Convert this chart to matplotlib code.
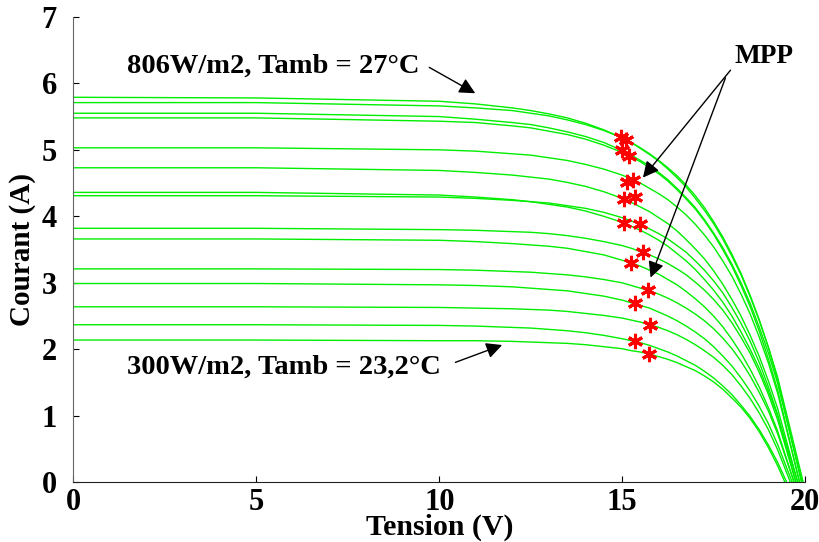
import matplotlib
matplotlib.use('Agg')
import matplotlib.pyplot as plt

# tension grid (V) shared by every curve, then each curve ends at its own Voc
v_grid = [0, 5, 10, 11, 12, 12.5, 13, 13.5, 14, 14.5, 15, 15.25, 15.5, 15.75, 16, 16.25, 16.5,
          16.75, 17, 17.25, 17.5, 17.75, 18, 18.25, 18.5, 18.75, 19, 19.25]
voc = [19.95, 19.9, 19.92, 19.85, 19.85, 19.8, 19.8, 19.75, 19.75, 19.7, 19.7, 19.65, 19.6, 19.5, 19.45]

# courant (A) on v_grid, one row per curve (806 W/m2 at top, 300 W/m2 at bottom)
i_curves = [
    [5.79, 5.78, 5.73, 5.69, 5.63, 5.59, 5.54, 5.48, 5.40, 5.30, 5.18, 5.11, 5.02, 4.93, 4.83, 4.71, 4.58, 4.44, 4.27, 4.09, 3.89, 3.66, 3.40, 3.12, 2.79, 2.43, 2.03, 1.58],
    [5.71, 5.71, 5.66, 5.63, 5.59, 5.55, 5.51, 5.45, 5.38, 5.29, 5.18, 5.11, 5.03, 4.94, 4.84, 4.73, 4.61, 4.47, 4.31, 4.13, 3.92, 3.69, 3.43, 3.14, 2.81, 2.44, 2.02, 1.54],
    [5.55, 5.55, 5.50, 5.46, 5.41, 5.38, 5.33, 5.27, 5.20, 5.11, 4.99, 4.92, 4.84, 4.76, 4.66, 4.55, 4.42, 4.28, 4.13, 3.95, 3.75, 3.53, 3.28, 3.00, 2.69, 2.33, 1.94, 1.49],
    [5.48, 5.48, 5.43, 5.41, 5.36, 5.33, 5.28, 5.23, 5.16, 5.07, 4.96, 4.89, 4.82, 4.73, 4.64, 4.53, 4.40, 4.26, 4.11, 3.93, 3.73, 3.50, 3.25, 2.96, 2.64, 2.27, 1.85, 1.39],
    [5.03, 5.03, 5.00, 4.98, 4.94, 4.92, 4.88, 4.84, 4.78, 4.71, 4.62, 4.56, 4.50, 4.42, 4.34, 4.25, 4.14, 4.02, 3.88, 3.72, 3.54, 3.33, 3.10, 2.83, 2.53, 2.18, 1.79, 1.34],
    [4.73, 4.73, 4.69, 4.66, 4.62, 4.59, 4.56, 4.51, 4.45, 4.37, 4.27, 4.21, 4.14, 4.07, 3.98, 3.89, 3.78, 3.65, 3.51, 3.36, 3.18, 2.98, 2.75, 2.50, 2.21, 1.89, 1.52, 1.11],
    [4.36, 4.36, 4.32, 4.29, 4.25, 4.22, 4.18, 4.14, 4.08, 4.00, 3.91, 3.85, 3.79, 3.72, 3.64, 3.55, 3.44, 3.33, 3.20, 3.05, 2.89, 2.71, 2.50, 2.26, 2.00, 1.71, 1.37, 1.00],
    [4.31, 4.31, 4.29, 4.27, 4.24, 4.22, 4.20, 4.16, 4.12, 4.06, 3.98, 3.93, 3.88, 3.81, 3.74, 3.66, 3.56, 3.46, 3.33, 3.19, 3.03, 2.85, 2.63, 2.39, 2.12, 1.80, 1.43, 1.02],
    [3.82, 3.82, 3.80, 3.79, 3.77, 3.76, 3.74, 3.71, 3.67, 3.62, 3.56, 3.52, 3.47, 3.42, 3.36, 3.29, 3.21, 3.12, 3.01, 2.89, 2.75, 2.59, 2.40, 2.18, 1.94, 1.65, 1.32, 0.94],
    [3.66, 3.66, 3.64, 3.62, 3.59, 3.57, 3.55, 3.52, 3.47, 3.42, 3.34, 3.30, 3.25, 3.19, 3.13, 3.05, 2.97, 2.87, 2.76, 2.64, 2.50, 2.34, 2.15, 1.94, 1.70, 1.43, 1.12, 0.77],
    [3.21, 3.21, 3.20, 3.19, 3.17, 3.16, 3.14, 3.12, 3.09, 3.05, 3.00, 2.96, 2.92, 2.88, 2.83, 2.77, 2.70, 2.62, 2.53, 2.43, 2.31, 2.17, 2.01, 1.82, 1.60, 1.35, 1.07, 0.73],
    [2.99, 2.99, 2.97, 2.96, 2.94, 2.92, 2.90, 2.88, 2.84, 2.80, 2.74, 2.70, 2.66, 2.62, 2.56, 2.50, 2.43, 2.35, 2.26, 2.16, 2.04, 1.90, 1.75, 1.57, 1.37, 1.14, 0.88, 0.57],
    [2.64, 2.64, 2.63, 2.62, 2.61, 2.60, 2.59, 2.57, 2.54, 2.51, 2.47, 2.44, 2.41, 2.37, 2.33, 2.28, 2.22, 2.15, 2.07, 1.98, 1.88, 1.76, 1.62, 1.45, 1.26, 1.04, 0.79, 0.49],
    [2.37, 2.37, 2.36, 2.35, 2.33, 2.32, 2.30, 2.28, 2.25, 2.21, 2.16, 2.13, 2.10, 2.06, 2.01, 1.96, 1.90, 1.83, 1.76, 1.67, 1.57, 1.45, 1.32, 1.16, 0.99, 0.79, 0.56, 0.30],
    [2.14, 2.14, 2.13, 2.13, 2.12, 2.11, 2.10, 2.09, 2.07, 2.04, 2.01, 1.98, 1.96, 1.93, 1.89, 1.85, 1.80, 1.74, 1.68, 1.60, 1.51, 1.40, 1.27, 1.13, 0.96, 0.76, 0.52, 0.25],
]

# points de puissance maximale
mpp_v = [14.96, 15.10, 15.0, 15.19, 15.13, 15.3, 15.04, 15.34, 15.04, 15.48, 15.57, 15.25, 15.7, 15.34, 15.75, 15.34, 15.73]
mpp_i = [5.19, 5.15, 4.99, 4.91, 4.52, 4.55, 4.26, 4.29, 3.90, 3.88, 3.46, 3.30, 2.89, 2.69, 2.37, 2.12, 1.93]

plt.rcParams['font.family'] = ['Liberation Serif', 'DejaVu Serif']
plt.rcParams['font.weight'] = 'bold'

fig = plt.figure(figsize=(8.19, 5.42), dpi=100)
ax = fig.add_axes([0.0897, 0.110, 0.8933, 0.859])

for cur, v_end in zip(i_curves, voc):
    ax.plot(v_grid + [v_end], cur + [0], color='#00ee00', lw=1)

ax.plot(mpp_v, mpp_i, ls='none', marker=(6, 2, 0), ms=11, mew=2.2, color='red')

ax.set_xlim(0, 20)
ax.set_ylim(0, 7)
ax.set_xticks([0, 5, 10, 15, 20])
ax.set_yticks(range(8))
ax.spines['top'].set_visible(False)
ax.spines['right'].set_visible(False)
ax.spines['left'].set_color('#666666')
ax.spines['bottom'].set_color('#222222')
ax.tick_params(direction='in', length=4, labelsize=22)
ax.tick_params(axis='y', pad=12)
ax.tick_params(axis='x', pad=4)
ax.set_xlabel('Tension (V)', fontsize=21.5, fontweight='bold', labelpad=-2)
ax.set_ylabel('Courant (A)', fontsize=21, fontweight='bold', labelpad=4)

arrow = dict(arrowstyle='-|>', color='black', lw=1, mutation_scale=24)
ax.text(1.46, 6.16, '806W/m2, Tamb = 27°C', fontsize=20.5, fontweight='bold')
ax.annotate('', xy=(11.05, 5.83), xytext=(9.66, 6.26), arrowprops=arrow)
ax.text(1.46, 1.64, '300W/m2, Tamb = 23,2°C', fontsize=20.5, fontweight='bold')
ax.annotate('', xy=(11.79, 2.08), xytext=(10.37, 1.79), arrowprops=arrow)
ax.text(18.07, 6.31, 'MPP', fontsize=19.7, fontweight='bold')
ax.annotate('', xy=(15.52, 4.55), xytext=(18.01, 6.23), arrowprops=arrow)
ax.annotate('', xy=(15.75, 3.04), xytext=(17.85, 6.12), arrowprops=arrow)

fig.savefig('out.png', dpi=100)
